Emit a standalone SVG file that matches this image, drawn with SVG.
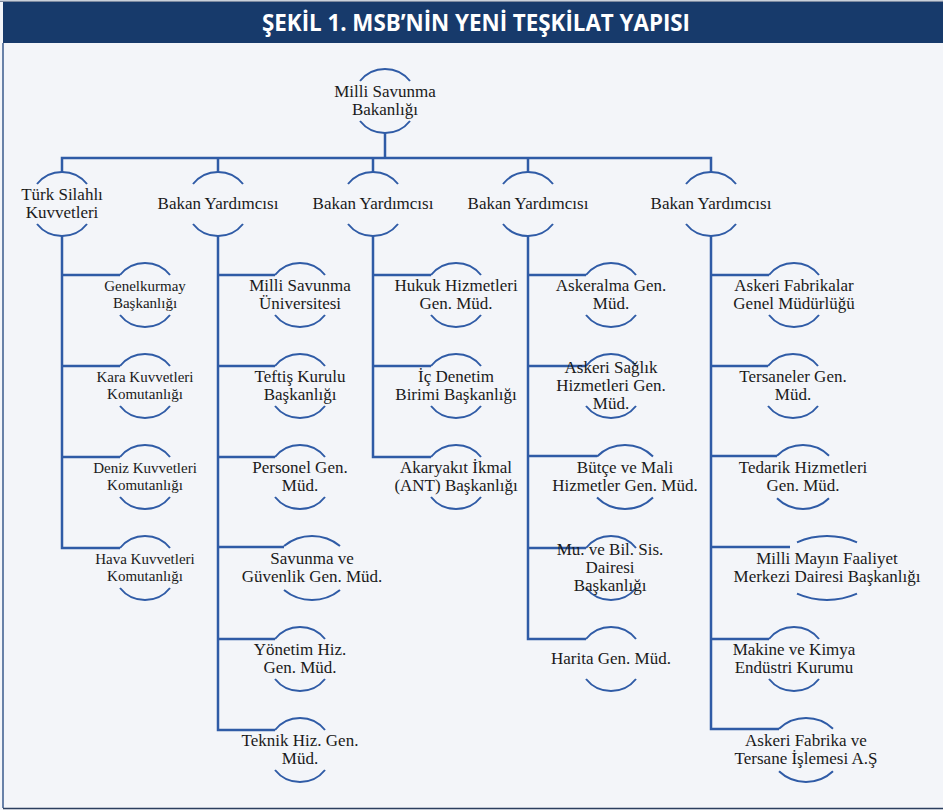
<svg xmlns="http://www.w3.org/2000/svg" width="943" height="810" viewBox="0 0 943 810">
<style>
.bg{fill:#f3f5f9}
.conn{fill:none;stroke:#2f5ba6;stroke-width:2.5;stroke-linejoin:miter;stroke-linecap:butt}
.arc{fill:none;stroke:#2f5ba6;stroke-width:2}
.t{font-family:'Liberation Serif',serif;font-size:17px;fill:#1a1a1a;text-anchor:middle}
.s{font-family:'Liberation Serif',serif;font-size:15px;fill:#1a1a1a;text-anchor:middle}
.title{font-family:'Open Sans','Liberation Sans',sans-serif;font-weight:bold;font-size:24px;fill:#ffffff;text-anchor:middle}
</style>
<rect class="bg" x="0" y="0" width="943" height="810"/>
<rect x="0" y="0" width="943" height="2" fill="#c9d0da"/>
<rect x="0" y="1" width="943" height="1" fill="#7d8aa0"/>
<rect x="3" y="2" width="940" height="41" fill="#173a6b"/>
<line x1="3" y1="43" x2="3" y2="808" stroke="#3a5a8c" stroke-width="1.5"/>
<line x1="3" y1="808.5" x2="943" y2="808.5" stroke="#2b3f5f" stroke-width="1.5"/>
<text class="title" x="476" y="31" textLength="428" lengthAdjust="spacingAndGlyphs">ŞEKİL 1. MSB’NİN YENİ TEŞKİLAT YAPISI</text>

<g id="connectors">
<path class="conn" d="M385,133 V158"/>
<path class="conn" d="M62,172 V158 H711 V172"/>
<path class="conn" d="M218,158 V172 M373,158 V172 M528,158 V172"/>
<path class="conn" d="M62,236 V548 H120 M62,275 H120 M62,366 H120 M62,457 H120"/>
<path class="conn" d="M218,236 V730 H275 M218,275 H275 M218,366 H275 M218,457 H275 M218,547 H284 M218,639 H275"/>
<path class="conn" d="M373,236 V457 H431 M373,275 H431 M373,366 H431"/>
<path class="conn" d="M528,236 V639 H586 M528,275 H586 M528,366 H586 M528,456 H597 M528,548 H586"/>
<path class="conn" d="M711,236 V729 H779 M711,275 H769 M711,366 H768 M711,456 H777 M711,547 H790 M711,639 H769"/>
</g>

<g id="n_msb">
<path class="arc" d="M360,81 A32,32 0 0 1 410,81 M360,121 A32,32 0 0 0 410,121"/>
<text class="t" x="385" y="96.5">Milli Savunma</text>
<text class="t" x="385" y="114.5">Bakanlığı</text>
</g>

<g id="n_tsk">
<path class="arc" d="M37,184 A32,32 0 0 1 87,184 M37,224 A32,32 0 0 0 87,224"/>
<text class="t" x="62" y="199.5">Türk Silahlı</text>
<text class="t" x="62" y="217.5">Kuvvetleri</text>
</g>
<g id="n_by1">
<path class="arc" d="M193,184 A32,32 0 0 1 243,184 M193,224 A32,32 0 0 0 243,224"/>
<text class="t" x="218" y="208.5">Bakan Yardımcısı</text>
</g>
<g id="n_by2">
<path class="arc" d="M348,184 A32,32 0 0 1 398,184 M348,224 A32,32 0 0 0 398,224"/>
<text class="t" x="373" y="208.5">Bakan Yardımcısı</text>
</g>
<g id="n_by3">
<path class="arc" d="M503,184 A32,32 0 0 1 553,184 M503,224 A32,32 0 0 0 553,224"/>
<text class="t" x="528" y="208.5">Bakan Yardımcısı</text>
</g>
<g id="n_by4">
<path class="arc" d="M686,184 A32,32 0 0 1 736,184 M686,224 A32,32 0 0 0 736,224"/>
<text class="t" x="711" y="208.5">Bakan Yardımcısı</text>
</g>

<g id="n_genelkurmay">
<path class="arc" d="M120,275 A32,32 0 0 1 170,275 M120,315 A32,32 0 0 0 170,315"/>
<text class="s" x="145" y="291">Genelkurmay</text>
<text class="s" x="145" y="307.5">Başkanlığı</text>
</g>
<g id="n_kara">
<path class="arc" d="M120,366 A32,32 0 0 1 170,366 M120,406 A32,32 0 0 0 170,406"/>
<text class="s" x="145" y="382">Kara Kuvvetleri</text>
<text class="s" x="145" y="398.5">Komutanlığı</text>
</g>
<g id="n_deniz">
<path class="arc" d="M120,457 A32,32 0 0 1 170,457 M120,497 A32,32 0 0 0 170,497"/>
<text class="s" x="145" y="473">Deniz Kuvvetleri</text>
<text class="s" x="145" y="489.5">Komutanlığı</text>
</g>
<g id="n_hava">
<path class="arc" d="M120,548 A32,32 0 0 1 170,548 M120,588 A32,32 0 0 0 170,588"/>
<text class="s" x="145" y="564">Hava Kuvvetleri</text>
<text class="s" x="145" y="580.5">Komutanlığı</text>
</g>

<g id="n_msu">
<path class="arc" d="M275,275 A32,32 0 0 1 325,275 M275,315 A32,32 0 0 0 325,315"/>
<text class="t" x="300" y="290.5">Milli Savunma</text>
<text class="t" x="300" y="308.5">Üniversitesi</text>
</g>
<g id="n_teftis">
<path class="arc" d="M275,366 A32,32 0 0 1 325,366 M275,406 A32,32 0 0 0 325,406"/>
<text class="t" x="300" y="381.5">Teftiş Kurulu</text>
<text class="t" x="300" y="399.5">Başkanlığı</text>
</g>
<g id="n_personel">
<path class="arc" d="M275,457 A32,32 0 0 1 325,457 M275,497 A32,32 0 0 0 325,497"/>
<text class="t" x="300" y="472.5">Personel Gen.</text>
<text class="t" x="300" y="490.5">Müd.</text>
</g>
<g id="n_savunma">
<path class="arc" d="M284,546 A44.2,44.2 0 0 1 340,546 M284,590 A44.2,44.2 0 0 0 340,590"/>
<text class="t" x="312" y="563.5">Savunma ve</text>
<text class="t" x="312" y="581.5">Güvenlik Gen. Müd.</text>
</g>
<g id="n_yonetim">
<path class="arc" d="M275,639 A32,32 0 0 1 325,639 M275,679 A32,32 0 0 0 325,679"/>
<text class="t" x="300" y="654.5">Yönetim Hiz.</text>
<text class="t" x="300" y="672.5">Gen. Müd.</text>
</g>
<g id="n_teknik">
<path class="arc" d="M275,730 A32,32 0 0 1 325,730 M275,770 A32,32 0 0 0 325,770"/>
<text class="t" x="300" y="745.5">Teknik Hiz. Gen.</text>
<text class="t" x="300" y="763.5">Müd.</text>
</g>

<g id="n_hukuk">
<path class="arc" d="M431,275 A32,32 0 0 1 481,275 M431,315 A32,32 0 0 0 481,315"/>
<text class="t" x="456" y="290.5">Hukuk Hizmetleri</text>
<text class="t" x="456" y="308.5">Gen. Müd.</text>
</g>
<g id="n_icdenetim">
<path class="arc" d="M431,366 A32,32 0 0 1 481,366 M431,406 A32,32 0 0 0 481,406"/>
<text class="t" x="456" y="381.5">İç Denetim</text>
<text class="t" x="456" y="399.5">Birimi Başkanlığı</text>
</g>
<g id="n_akaryakit">
<path class="arc" d="M431,457 A32,32 0 0 1 481,457 M431,497 A32,32 0 0 0 481,497"/>
<text class="t" x="456" y="472.5">Akaryakıt İkmal</text>
<text class="t" x="456" y="490.5">(ANT) Başkanlığı</text>
</g>

<g id="n_askeralma">
<path class="arc" d="M586,275 A32,32 0 0 1 636,275 M586,315 A32,32 0 0 0 636,315"/>
<text class="t" x="611" y="290.5">Askeralma Gen.</text>
<text class="t" x="611" y="308.5">Müd.</text>
</g>
<g id="n_saglik">
<path class="arc" d="M586,366 A32,32 0 0 1 636,366 M586,406 A32,32 0 0 0 636,406"/>
<text class="t" x="611" y="372.5">Askeri Sağlık</text>
<text class="t" x="611" y="390.5">Hizmetleri Gen.</text>
<text class="t" x="611" y="408.5">Müd.</text>
</g>
<g id="n_butce">
<path class="arc" d="M597,456.5 A39.8,39.8 0 0 1 653,456.5 M597,497.5 A39.8,39.8 0 0 0 653,497.5"/>
<text class="t" x="625" y="472.5">Bütçe ve Mali</text>
<text class="t" x="625" y="490.5">Hizmetler Gen. Müd.</text>
</g>
<g id="n_mubil">
<path class="arc" d="M586,548 A32,32 0 0 1 636,548 M586,588 A32,32 0 0 0 636,588"/>
<text class="t" x="610" y="554.5">Mu. ve Bil. Sis.</text>
<text class="t" x="610" y="572.5">Dairesi</text>
<text class="t" x="610" y="590.5">Başkanlığı</text>
</g>
<g id="n_harita">
<path class="arc" d="M586,639 A32,32 0 0 1 636,639 M586,679 A32,32 0 0 0 636,679"/>
<text class="t" x="611" y="663.5">Harita Gen. Müd.</text>
</g>

<g id="n_afgm">
<path class="arc" d="M769,275 A32,32 0 0 1 819,275 M769,315 A32,32 0 0 0 819,315"/>
<text class="t" x="794" y="290.5">Askeri Fabrikalar</text>
<text class="t" x="794" y="308.5">Genel Müdürlüğü</text>
</g>
<g id="n_tersaneler">
<path class="arc" d="M768,366 A32,32 0 0 1 818,366 M768,406 A32,32 0 0 0 818,406"/>
<text class="t" x="793" y="381.5">Tersaneler Gen.</text>
<text class="t" x="793" y="399.5">Müd.</text>
</g>
<g id="n_tedarik">
<path class="arc" d="M777,455.7 A37.1,37.1 0 0 1 829,455.7 M777,498.3 A37.1,37.1 0 0 0 829,498.3"/>
<text class="t" x="803" y="472.5">Tedarik Hizmetleri</text>
<text class="t" x="803" y="490.5">Gen. Müd.</text>
</g>
<g id="n_mayin">
<path class="arc" d="M797,542.3 A74.6,74.6 0 0 1 857,542.3 M797,593.7 A74.6,74.6 0 0 0 857,593.7"/>
<text class="t" x="827" y="563.5">Milli Mayın Faaliyet</text>
<text class="t" x="827" y="581.5">Merkezi Dairesi Başkanlığı</text>
</g>
<g id="n_makine">
<path class="arc" d="M769,639 A32,32 0 0 1 819,639 M769,679 A32,32 0 0 0 819,679"/>
<text class="t" x="794" y="654.5">Makine ve Kimya</text>
<text class="t" x="794" y="672.5">Endüstri Kurumu</text>
</g>
<g id="n_asfat">
<path class="arc" d="M779,728.7 A39.4,39.4 0 0 1 833,728.7 M779,771.3 A39.4,39.4 0 0 0 833,771.3"/>
<text class="t" x="806" y="745.5">Askeri Fabrika ve</text>
<text class="t" x="806" y="763.5">Tersane İşlemesi A.Ş</text>
</g>
</svg>
